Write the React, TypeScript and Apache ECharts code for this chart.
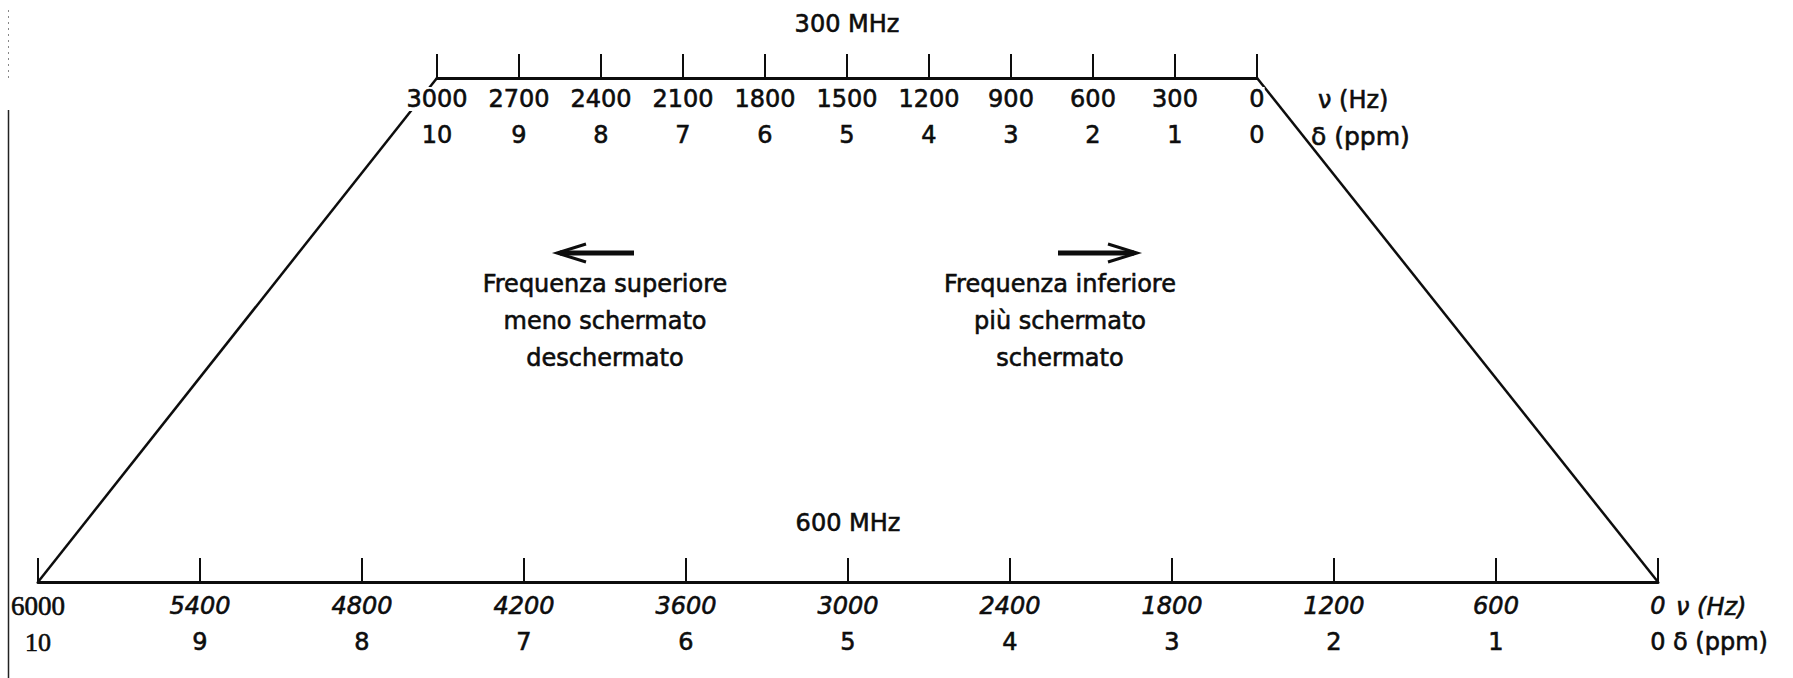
import React, { useEffect, useRef } from "react";
import * as echarts from "echarts";

// ---- data ----
const topHzTicks = [3000, 2700, 2400, 2100, 1800, 1500, 1200, 900, 600, 300, 0];
const topPpmTicks = ["10", "9", "8", "7", "6", "5", "4", "3", "2", "1", "0"];
const bottomHzTicks = [6000, 5400, 4800, 4200, 3600, 3000, 2400, 1800, 1200, 600, 0];
const bottomPpmTicks = ["10", "9", "8", "7", "6", "5", "4", "3", "2", "1", "0"];
const topFieldLabel = "300 MHz";
const bottomFieldLabel = "600 MHz";
const unitLabels = ["ν (Hz)", "δ (ppm)"];
const leftNote = ["Frequenza superiore", "meno schermato", "deschermato"];
const rightNote = ["Frequenza inferiore", "più schermato", "schermato"];

const FONT = "'DejaVu Sans', 'Noto Sans', sans-serif";
const SERIF = "'Liberation Serif', 'DejaVu Serif', serif";
const INK = "#0d0d0d";
const HEAVY = { textBorderColor: INK, textBorderWidth: 0.6 };

function makeAxis(
  gridIndex: number,
  hz: number[],
  ppm: string[],
  margin: number,
  italic: boolean
) {
  const maxV = Math.max(...hz);
  return {
    type: "value",
    gridIndex,
    position: "bottom",
    min: 0,
    max: maxV,
    interval: hz[0] - hz[1],
    inverse: true,
    splitLine: { show: false },
    axisLine: { show: true, lineStyle: { color: INK, width: 3 } },
    axisTick: { show: true, inside: true, length: 24, lineStyle: { color: INK, width: 2 } },
    axisLabel: {
      show: true,
      margin,
      showMinLabel: true,
      showMaxLabel: true,
      hideOverlap: false,
      formatter: (v: number) => {
        const i = hz.indexOf(v);
        if (i < 0) return "";
        if (italic && v === maxV) {
          return `{serif|${v}}\n{serifPpm|${ppm[i]}}`;
        }
        return `{hz|${v}}\n{ppm|${ppm[i]}}`;
      },
      rich: {
        hz: {
          fontFamily: FONT,
          fontSize: 24,
          fontStyle: italic ? "italic" : "normal",
          color: INK,
          lineHeight: 36,
          backgroundColor: "#fff",
          ...HEAVY,
        },
        ppm: { fontFamily: FONT, fontSize: 24, color: INK, lineHeight: 36, ...HEAVY },
        serif: {
          fontFamily: SERIF,
          fontSize: 27,
          color: INK,
          lineHeight: 36,
          backgroundColor: "#fff",
          ...HEAVY,
        },
        serifPpm: { fontFamily: SERIF, fontSize: 26, color: INK, lineHeight: 36, ...HEAVY },
      },
    },
  };
}

function textEl(text: string, x: number, y: number, opts: any = {}) {
  return {
    type: "text",
    x,
    y,
    style: {
      text,
      fill: INK,
      stroke: INK,
      lineWidth: 0.6,
      font: `${opts.italic ? "italic " : ""}${opts.size || 24}px ${FONT}`,
      align: opts.align || "left",
      verticalAlign: "middle",
    },
  };
}

export default function App() {
  const ref = useRef<HTMLDivElement>(null);

  useEffect(() => {
    if (!ref.current) return;
    const chart = echarts.init(ref.current, undefined, { renderer: "svg" });
    chart.setOption({
      animation: false,
      backgroundColor: "#ffffff",
      grid: [
        { left: 437, right: 536, top: 38, height: 40 },
        { left: 38, right: 135, top: 540, height: 42 },
      ],
      xAxis: [
        makeAxis(0, topHzTicks, topPpmTicks, 3, false),
        makeAxis(1, bottomHzTicks, bottomPpmTicks, 6, true),
      ],
      yAxis: [
        { type: "value", gridIndex: 0, min: 0, max: 1, show: false },
        { type: "value", gridIndex: 1, min: 0, max: 1, show: false },
      ],
      series: [],
    });

    const tL = chart.convertToPixel({ gridIndex: 0 }, [Math.max(...topHzTicks), 0]) as number[];
    const tR = chart.convertToPixel({ gridIndex: 0 }, [0, 0]) as number[];
    const bL = chart.convertToPixel({ gridIndex: 1 }, [Math.max(...bottomHzTicks), 0]) as number[];
    const bR = chart.convertToPixel({ gridIndex: 1 }, [0, 0]) as number[];

    const noteLines = (lines: string[], cx: number, y0: number) =>
      lines.map((t, i) => textEl(t, cx, y0 + i * 37, { size: 24, align: "center" }));

    chart.setOption({
      graphic: {
        elements: [
          // connecting trapezoid sides
          {
            type: "line",
            z: -1,
            shape: { x1: tL[0], y1: tL[1], x2: bL[0], y2: bL[1] },
            style: { stroke: INK, lineWidth: 2.5 },
          },
          {
            type: "line",
            z: -1,
            shape: { x1: tR[0], y1: tR[1], x2: bR[0], y2: bR[1] },
            style: { stroke: INK, lineWidth: 2.5 },
          },
          // field labels
          textEl(topFieldLabel, (tL[0] + tR[0]) / 2, 24, { align: "center" }),
          textEl(bottomFieldLabel, (bL[0] + bR[0]) / 2, 523, { align: "center" }),
          // units
          textEl(unitLabels[0], 1318, 100),
          textEl(unitLabels[1], 1311, 136, { size: 25 }),
          textEl(unitLabels[0], 1676, 607, { italic: true }),
          textEl(unitLabels[1], 1673, 642),
          // arrows
          {
            type: "line",
            shape: { x1: 560, y1: 253, x2: 634, y2: 253 },
            style: { stroke: INK, lineWidth: 5 },
          },
          {
            type: "polyline",
            shape: { points: [[586, 244], [557, 253], [586, 262]] },
            style: { stroke: INK, lineWidth: 3, fill: "none" },
          },
          {
            type: "line",
            shape: { x1: 1058, y1: 253, x2: 1134, y2: 253 },
            style: { stroke: INK, lineWidth: 5 },
          },
          {
            type: "polyline",
            shape: { points: [[1108, 244], [1137, 253], [1108, 262]] },
            style: { stroke: INK, lineWidth: 3, fill: "none" },
          },
          ...noteLines(leftNote, 605, 284),
          ...noteLines(rightNote, 1060, 284),
          // scan edge
          {
            type: "line",
            shape: { x1: 8.5, y1: 110, x2: 8.5, y2: 678 },
            style: { stroke: "#222", lineWidth: 1.5 },
          },
          {
            type: "line",
            shape: { x1: 8.5, y1: 10, x2: 8.5, y2: 80 },
            style: { stroke: "#888", lineWidth: 1, lineDash: [2, 4] },
          },
        ],
      },
    });

    return () => chart.dispose();
  }, []);

  return (
    <div
      ref={ref}
      style={{ position: "fixed", left: 0, top: 0, width: 1793, height: 678, background: "#fff" }}
    />
  );
}
